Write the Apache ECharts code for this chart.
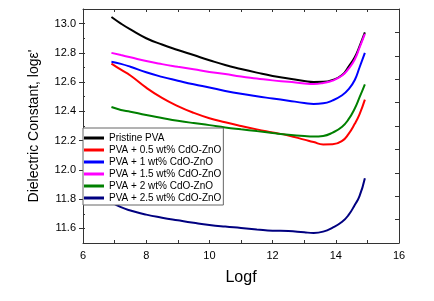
<!DOCTYPE html>
<html><head><meta charset="utf-8">
<script src="https://cdn.jsdelivr.net/npm/echarts@6/dist/echarts.min.js"></script>
<style>html,body{margin:0;padding:0;background:#fff}#c{width:434px;height:301px}</style>
</head><body><div id="c"></div>
<script>
const logf = [6.9, 7.2, 7.5, 8, 8.5, 9, 9.5, 10, 10.5, 11, 11.5, 12, 12.5, 13, 13.3, 13.6, 13.9, 14.2, 14.4, 14.6, 14.75, 14.92];
const seriesNames = ['Pristine PVA', 'PVA + 0.5 wt% CdO-ZnO', 'PVA + 1 wt% CdO-ZnO', 'PVA + 1.5 wt% CdO-ZnO', 'PVA + 2 wt% CdO-ZnO', 'PVA + 2.5 wt% CdO-ZnO'];
const pristine = [13.045, 13.0, 12.96, 12.9, 12.857, 12.82, 12.785, 12.75, 12.717, 12.69, 12.665, 12.642, 12.625, 12.608, 12.601, 12.602, 12.615, 12.648, 12.705, 12.77, 12.845, 12.94];
const wt05 = [12.727, 12.685, 12.645, 12.562, 12.492, 12.436, 12.39, 12.353, 12.325, 12.30, 12.277, 12.256, 12.235, 12.207, 12.19, 12.174, 12.175, 12.198, 12.245, 12.315, 12.38, 12.48];
const wt1 = [12.74, 12.725, 12.705, 12.667, 12.636, 12.61, 12.585, 12.563, 12.54, 12.52, 12.503, 12.488, 12.473, 12.458, 12.451, 12.455, 12.475, 12.51, 12.55, 12.615, 12.70, 12.80];
const wt15 = [12.80, 12.785, 12.77, 12.744, 12.723, 12.705, 12.688, 12.67, 12.655, 12.638, 12.625, 12.612, 12.602, 12.591, 12.587, 12.594, 12.61, 12.645, 12.69, 12.755, 12.835, 12.93];
const wt2 = [12.43, 12.41, 12.398, 12.375, 12.355, 12.336, 12.32, 12.306, 12.29, 12.277, 12.265, 12.252, 12.24, 12.231, 12.228, 12.232, 12.255, 12.295, 12.345, 12.42, 12.495, 12.585];
const wt25 = [11.78, 11.745, 11.722, 11.694, 11.673, 11.655, 11.638, 11.623, 11.612, 11.603, 11.593, 11.584, 11.582, 11.573, 11.569, 11.578, 11.605, 11.645, 11.69, 11.76, 11.82, 11.943];
const yMajorTicks = [11.6, 11.8, 12.0, 12.2, 12.4, 12.6, 12.8, 13.0];
const colors = ['#000000', '#ff0000', '#0000ff', '#ff00ff', '#008000', '#000080'];
const allData = [pristine, wt05, wt1, wt15, wt2, wt25];

const axisColor = '#333';
const chart = echarts.init(document.getElementById('c'));
chart.setOption({
  animation: false,
  grid: {left: 83, right: 35, top: 9, bottom: 58},
  xAxis: [{
    type: 'value', min: 6, max: 16, interval: 2, position: 'bottom',
    name: 'Logf', nameLocation: 'middle', nameGap: 27,
    nameTextStyle: {fontFamily: 'Liberation Sans', fontSize: 16, color: '#000'},
    axisLine: {show: true, lineStyle: {color: axisColor, width: 1}},
    axisTick: {show: true, inside: true, length: 3, lineStyle: {color: axisColor}},
    minorTick: {show: true, splitNumber: 2, length: 3, lineStyle: {color: axisColor}},
    axisLabel: {fontFamily: 'Liberation Sans', fontSize: 11, color: '#000', margin: 7},
    splitLine: {show: false}
  }, {
    type: 'value', min: 6, max: 16, interval: 1, position: 'top',
    axisLine: {show: true, lineStyle: {color: axisColor, width: 1}},
    axisTick: {show: true, inside: true, length: 3, lineStyle: {color: axisColor}},
    axisLabel: {show: false}, splitLine: {show: false}
  }],
  yAxis: [{
    type: 'value', min: 11.5, max: 13.1, interval: 0.1, position: 'left',
    name: "Dielectric Constant, logε'", nameLocation: 'middle', nameGap: 42,
    nameTextStyle: {fontFamily: 'Liberation Sans', fontSize: 14, color: '#000'},
    axisLine: {show: true, lineStyle: {color: axisColor, width: 1}},
    axisTick: {show: true, inside: true, length: 2, lineStyle: {color: axisColor}},
    axisLabel: {
      fontFamily: 'Liberation Sans', fontSize: 11, color: '#000', margin: 7,
      formatter: function (v) { return Math.round(v * 10) % 2 === 0 ? v.toFixed(1) : ''; }
    },
    splitLine: {show: false}
  }, {
    type: 'value', min: 11.5, max: 13.1, interval: 0.1, position: 'left', offset: 0,
    axisLine: {show: false},
    axisTick: {show: true, inside: false, length: 4, customValues: yMajorTicks, lineStyle: {color: axisColor}},
    axisLabel: {show: false}, splitLine: {show: false}
  }, {
    type: 'value', min: 0, max: 10, interval: 1, position: 'right',
    axisLine: {show: true, lineStyle: {color: axisColor, width: 1}},
    axisTick: {show: true, inside: true, length: 4, lineStyle: {color: axisColor}},
    axisLabel: {show: false}, splitLine: {show: false}
  }],
  legend: {
    orient: 'vertical', left: 83, top: 128,
    backgroundColor: '#fff', borderColor: '#666', borderWidth: 1,
    padding: [4, 2, 1, 1],
    icon: 'rect', itemWidth: 20, itemHeight: 3, itemGap: 0,
    textStyle: {fontFamily: 'Liberation Sans', fontSize: 10, color: '#000', lineHeight: 12},
    data: seriesNames
  },
  series: seriesNames.map(function (n, i) {
    return {
      name: n, type: 'line', xAxisIndex: 0, yAxisIndex: 0,
      data: logf.map(function (x, j) { return [x, allData[i][j]]; }),
      showSymbol: false, symbol: 'none', smooth: 0.5,
      lineStyle: {color: colors[i], width: 2},
      itemStyle: {color: colors[i]}
    };
  })
});
</script></body></html>
